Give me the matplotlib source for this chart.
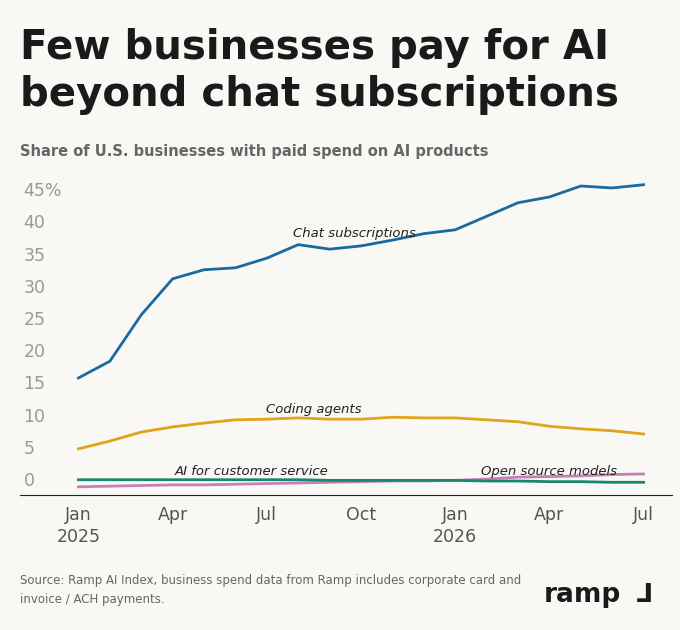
import numpy as np
import matplotlib.pyplot as plt

months = np.arange(19)
chat = [17.4, 20.0, 27.2, 32.8, 34.2, 34.5, 36.0, 38.1, 37.4, 37.9, 38.8, 39.8,
        40.4, 42.5, 44.6, 45.5, 47.2, 46.9, 47.4]
coding = [6.4, 7.6, 9.0, 9.8, 10.4, 10.9, 11.0, 11.2, 11.0, 11.0, 11.3, 11.2,
          11.2, 10.9, 10.6, 9.9, 9.5, 9.2, 8.7]
customer = [1.6, 1.6, 1.6, 1.6, 1.6, 1.6, 1.6, 1.6, 1.5, 1.5, 1.5, 1.5,
            1.5, 1.4, 1.4, 1.3, 1.3, 1.2, 1.2]
opensrc = [0.5, 0.6, 0.7, 0.8, 0.8, 0.9, 1.0, 1.1, 1.2, 1.3, 1.4, 1.4,
           1.5, 1.7, 2.0, 2.1, 2.2, 2.4, 2.5]
xtick_pos = [0, 3, 6, 9, 12, 15, 18]
xtick_labels = ["Jan\n2025", "Apr", "Jul", "Oct", "Jan\n2026", "Apr", "Jul"]
ytick_vals = [0, 5, 10, 15, 20, 25, 30, 35, 40, 45]

bg = "#f9f8f5"
fig = plt.figure(figsize=(6.8, 6.3), dpi=100, facecolor=bg)
ax = fig.add_axes([0.03, 0.214, 0.958, 0.503], facecolor=bg)

ax.plot(months, chat, color="#1a6aa0", lw=2)
ax.plot(months, coding, color="#e0a31a", lw=2)
ax.plot(months, opensrc, color="#c77fb8", lw=2)
ax.plot(months, customer, color="#16886e", lw=2)

ax.set_xlim(-1.85, 18.9)
ax.set_ylim(-0.8, 48.4)
for s in ["top", "right", "left"]:
    ax.spines[s].set_visible(False)
ax.spines["bottom"].set_color("#222222")
ax.set_yticks([])
ax.set_xticks(xtick_pos)
ax.set_xticklabels(xtick_labels, fontsize=12.5, color="#555555", linespacing=1.3)
ax.tick_params(axis="x", length=0, pad=8)

for v in ytick_vals:
    lab = f"{v}%" if v == 45 else str(v)
    ax.text(-1.75, v, lab, fontsize=12.5, color="#999999", ha="left", va="bottom")

lab_kw = dict(fontsize=9.5, style="italic", color="#222222", ha="center")
ax.text(8.8, 39.3, "Chat subscriptions", **lab_kw)
ax.text(7.5, 12.0, "Coding agents", **lab_kw)
ax.text(5.5, 2.4, "AI for customer service", **lab_kw)
ax.text(15.0, 2.4, "Open source models", **lab_kw)

fig.text(0.03, 0.955, "Few businesses pay for AI\nbeyond chat subscriptions",
         fontsize=29, fontweight="bold", color="#1a1a1a", va="top", linespacing=1.22)
fig.text(0.03, 0.752, "Share of U.S. businesses with paid spend on AI products",
         fontsize=10.5, fontweight="bold", color="#666666")
fig.text(0.03, 0.043, "Source: Ramp AI Index, business spend data from Ramp includes corporate card and\n"
         "invoice / ACH payments.", fontsize=8.5, color="#666666", linespacing=1.6)
fig.text(0.80, 0.045, "ramp", fontsize=19, fontweight="bold", color="#1a1a1a")
fig.text(0.935, 0.045, "\u2143", fontsize=19, fontweight="bold", color="#1a1a1a")

fig.savefig("out.png", dpi=100, facecolor=bg)
